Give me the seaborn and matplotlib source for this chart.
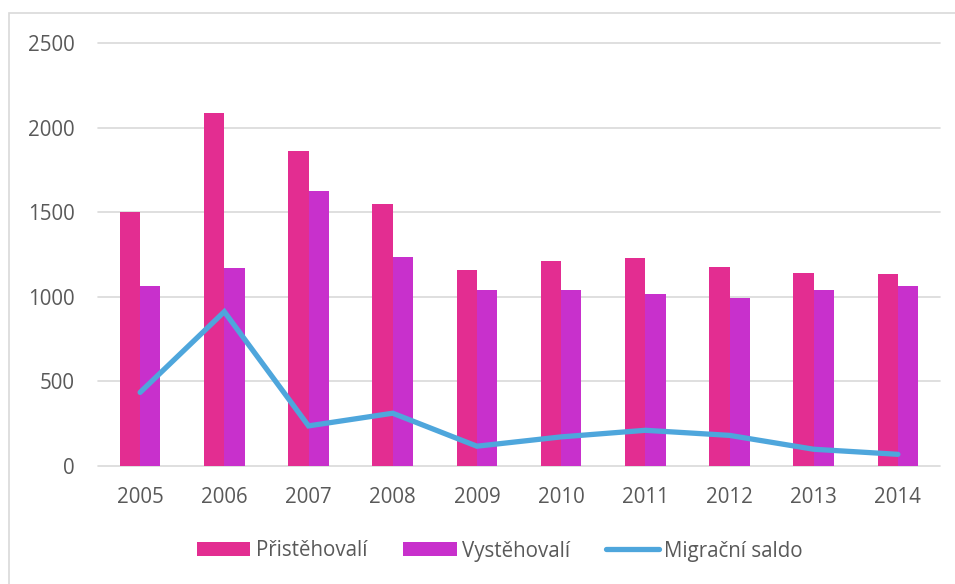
import numpy as np
import pandas as pd
import matplotlib
matplotlib.use("Agg")
import matplotlib.pyplot as plt
from matplotlib.patches import Rectangle, Patch
from matplotlib.lines import Line2D
import seaborn as sns

years = ["2005", "2006", "2007", "2008", "2009", "2010", "2011", "2012", "2013", "2014"]
pristehovali = [1501, 2084, 1862, 1547, 1157, 1210, 1229, 1174, 1141, 1133]
vystehovali = [1066, 1172, 1625, 1235, 1040, 1038, 1018, 993, 1042, 1064]
saldo = [435, 912, 237, 312, 117, 172, 211, 181, 99, 69]
series_names = ["Přistěhovalí", "Vystěhovalí", "Migrační saldo"]
yticks = [0, 500, 1000, 1500, 2000, 2500]

c_pink = "#E32D91"
c_mag = "#C830CC"
c_blue = "#4EA6DC"
c_text = "#595959"
c_grid = "#D9D9D9"

sns.set_theme(style="white")
plt.rcParams["font.family"] = ["Open Sans", "DejaVu Sans"]

df = pd.DataFrame({
    "year": years * 2,
    "value": pristehovali + vystehovali,
    "series": [series_names[0]] * len(years) + [series_names[1]] * len(years),
})

fs = 14.8

fig = plt.figure(figsize=(9.55, 5.84), dpi=100)
ax = fig.add_axes([98 / 955, 1 - 466 / 584, 842 / 955, 423 / 584])

sns.barplot(data=df, x="year", y="value", hue="series", order=years,
            hue_order=series_names[:2], palette=[c_pink, c_mag],
            width=0.48, ax=ax, legend=False, saturation=1, edgecolor="none")
sns.lineplot(x=np.arange(len(years)), y=saldo, color=c_blue, linewidth=3.8,
             ax=ax, legend=False, solid_capstyle="round", solid_joinstyle="miter")

ax.set_xlim(-0.5, len(years) - 0.5)
ax.set_ylim(0, 2500)
ax.set_yticks(yticks)
ax.set_yticklabels([str(t) for t in yticks])
ax.set_xlabel("")
ax.set_ylabel("")
for t in yticks:
    ax.axhline(t, color=c_grid, lw=1.2, zorder=0, clip_on=False)
for s in ax.spines.values():
    s.set_visible(False)
ax.tick_params(axis="y", length=0, pad=17, labelsize=fs, labelcolor=c_text)
ax.tick_params(axis="x", length=0, pad=15, labelsize=fs, labelcolor=c_text)

handles = [Patch(facecolor=c_pink, edgecolor="none"),
           Patch(facecolor=c_mag, edgecolor="none"),
           Line2D([0], [0], color=c_blue, lw=3.8, solid_capstyle="round")]
fig.legend(handles, series_names, loc="center", bbox_to_anchor=(500 / 955, 1 - 551 / 584),
           ncol=3, frameon=False, fontsize=fs, labelcolor=c_text,
           handlelength=2.6, handleheight=0.68, handletextpad=0.25, columnspacing=1.75,
           borderpad=0, borderaxespad=0)

fig.patches.append(Rectangle((9 / 955, -0.05), 2, 1 - 13 / 584 + 0.05,
                             transform=fig.transFigure, fill=False,
                             edgecolor=c_grid, lw=1.2))

fig.savefig("out.png", dpi=100)
